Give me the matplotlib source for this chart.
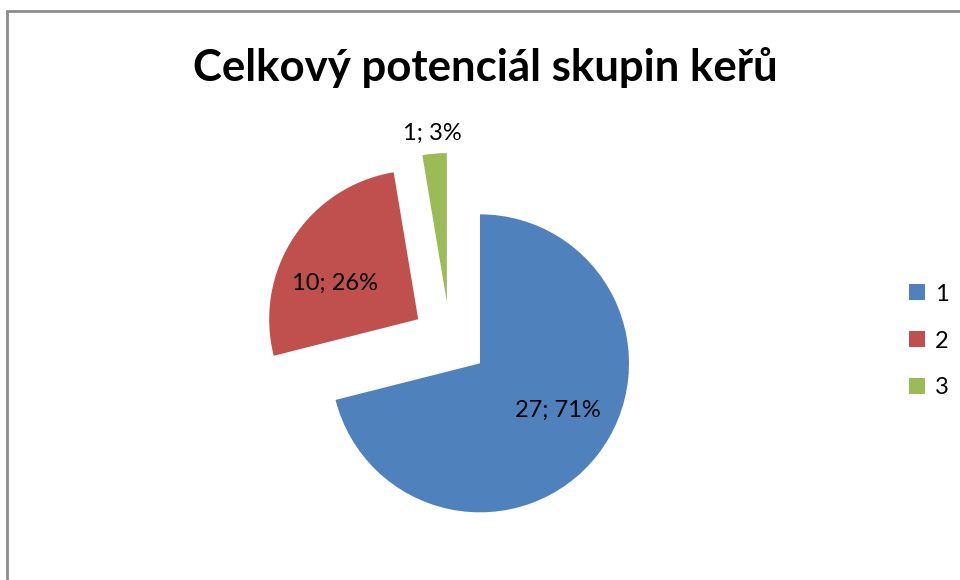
import math
import matplotlib
matplotlib.use("Agg")
import matplotlib.pyplot as plt
from matplotlib.lines import Line2D

categories = ["1", "2", "3"]
values = [27, 10, 1]
colors = ["#4F81BD", "#C0504D", "#9BBB59"]
title = "Celkový potenciál skupin keřů"

plt.rcParams['font.family'] = ['Lato', 'DejaVu Sans']

fig = plt.figure(figsize=(9.6, 5.8), dpi=100)
ax = fig.add_axes([0, 0, 1, 1])

R = 149
C = (450, 240)
EXP = 38
wedges, _ = ax.pie(values, colors=colors, startangle=90, counterclock=False,
                   explode=[EXP] * len(values), radius=R, center=C,
                   wedgeprops=dict(linewidth=0))

ax.set_xlim(0, 960)
ax.set_ylim(0, 580)
ax.set_aspect('equal')
ax.axis('off')

# chart frame (top and left visible)
ax.add_line(Line2D([7, 7, 960], [0, 569, 569], color="#8c8c8c", lw=2, solid_joinstyle='miter'))

total = sum(values)
label_dist = [0.61, 0.61, 1.14]
label_rot = [7, 10, 0]  # small angular tweaks in degrees
for w, v, d, dr in zip(wedges, values, label_dist, label_rot):
    thm = math.radians(0.5 * (w.theta1 + w.theta2) + dr)
    cx, cy = w.center
    x = cx + d * R * math.cos(thm)
    y = cy + d * R * math.sin(thm)
    ax.text(x, y, f"{v}; {round(100 * v / total)}%", ha='center', va='center',
            fontsize=17, color='black')

ax.text(485, 512, title, ha='center', va='center', fontsize=31.5, fontweight='bold')

leg = ax.legend(wedges, categories, loc='center left', bbox_to_anchor=(888 / 960, 239 / 580),
                bbox_transform=fig.transFigure, frameon=False, fontsize=17,
                handlelength=0.65, handleheight=0.65, handletextpad=0.45, labelspacing=1.1)

fig.savefig("out.png", dpi=100)
